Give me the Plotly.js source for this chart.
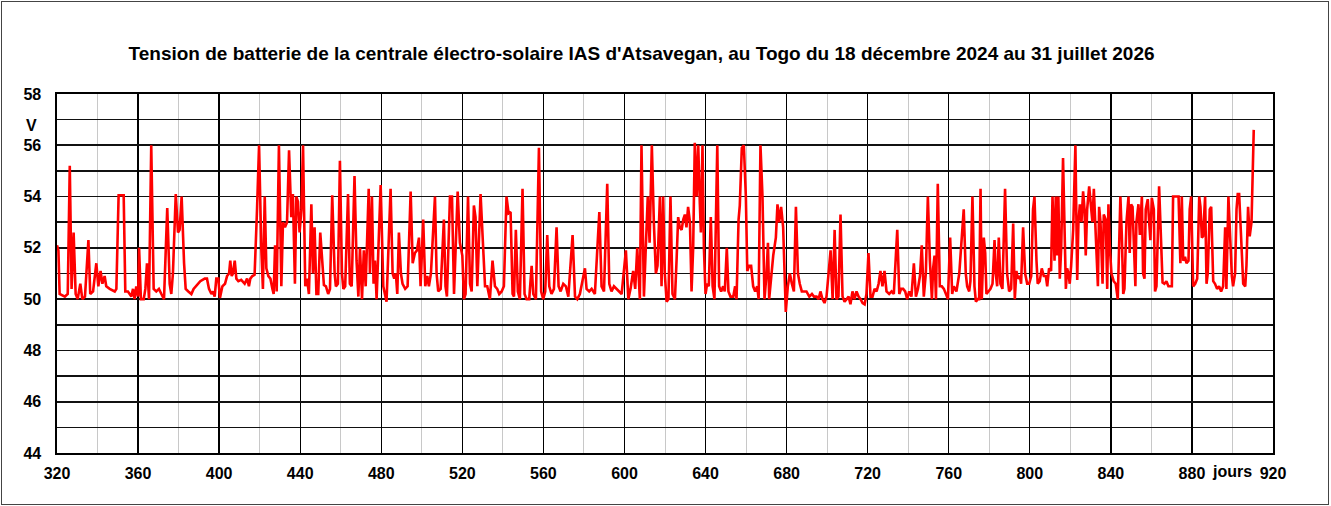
<!DOCTYPE html>
<html>
<head>
<meta charset="utf-8">
<script src="https://cdn.plot.ly/plotly-3.0.1.min.js"></script>
<style>
html,body{margin:0;padding:0;background:#fff;}
#chart{width:1331px;height:506px;}
#frame{position:absolute;left:1px;top:1px;width:1326px;height:502px;border:1px solid #444;pointer-events:none;}
</style>
</head>
<body>
<div id="chart"></div>
<div id="frame"></div>
<script>
// Day index (jours) and battery voltage (V)
const days = [
320.0,320.7,321.3,322.6,323.9,325.3,326.3,327.2,328.2,329.2,330.2,331.5,332.5,333.8,335.5,336.4,337.8,339.4,340.4,341.5,
342.4,343.5,344.3,346.0,348.5,349.3,350.4,352.9,353.7,355.0,356.7,357.5,358.3,359.1,360.0,360.5,361.4,362.8,363.6,364.4,
365.4,366.5,367.7,369.0,370.3,371.5,372.8,374.4,375.6,376.4,377.2,378.6,379.7,380.5,381.5,382.7,383.5,384.8,386.3,387.4,
389.1,390.7,392.9,394.0,395.0,396.2,397.0,397.8,398.6,399.6,400.4,401.6,402.9,403.9,404.9,405.5,406.2,406.8,407.7,408.5,
409.5,410.9,412.6,413.8,414.7,415.4,416.4,417.5,418.7,419.7,420.8,421.6,422.5,423.3,424.3,425.3,426.3,426.9,427.6,428.4,
429.5,430.7,431.5,432.5,433.5,434.5,435.6,436.4,437.4,438.1,438.9,439.7,440.6,441.4,442.5,443.4,444.3,445.5,446.3,447.1,
448.0,448.9,449.9,451.7,452.7,453.8,454.7,455.8,457.0,457.6,458.6,459.6,460.6,461.3,462.2,463.6,464.5,465.4,466.8,467.8,
468.7,469.5,470.5,471.4,472.3,473.8,474.4,475.4,476.2,476.9,477.7,479.7,481.0,482.6,484.6,485.6,486.4,487.2,487.9,488.7,
489.7,490.5,491.8,493.0,494.5,495.5,496.6,497.6,498.6,499.4,500.7,501.7,502.7,503.5,504.5,506.5,507.3,508.1,509.3,510.9,
511.7,512.4,513.9,514.9,515.9,517.7,518.8,520.0,520.8,521.6,522.8,523.8,524.6,525.7,526.5,527.4,529.0,530.0,531.2,532.3,
533.6,534.9,536.1,537.2,538.2,539.4,540.5,541.8,542.8,543.8,544.8,545.5,546.4,547.4,548.4,549.7,550.7,551.7,553.0,554.2,
555.0,556.3,557.8,558.9,559.9,560.9,561.9,562.9,564.0,565.2,566.5,567.5,568.5,569.8,571.1,572.3,574.4,575.6,576.7,578.0,
580.5,581.3,582.6,583.8,585.4,587.6,588.7,589.9,591.5,592.5,593.6,594.8,596.1,597.4,598.6,600.7,601.9,603.0,604.3,605.3,
606.3,607.6,608.4,609.6,610.6,611.5,612.4,613.5,614.5,615.5,616.3,617.5,618.3,619.1,619.9,620.8,621.7,622.7,623.7,624.9,
625.7,626.5,627.3,628.2,629.0,629.8,630.6,631.4,632.3,633.1,633.9,634.7,635.6,636.4,637.2,637.7,638.5,639.2,640.0,640.8,
641.6,642.6,643.5,644.4,645.8,646.7,647.7,648.7,649.5,650.5,651.3,652.3,653.7,654.6,655.3,656.3,656.9,657.9,658.9,659.9,
660.6,661.5,662.5,663.5,664.5,665.5,666.2,667.1,668.1,669.1,670.1,670.8,671.4,672.4,673.4,674.7,675.5,676.3,677.3,678.3,
679.0,679.6,680.6,681.6,682.6,683.6,684.6,685.6,686.5,687.5,688.5,689.8,691.2,692.5,693.5,694.8,695.8,696.7,697.7,698.7,
699.7,700.7,701.7,702.7,703.7,704.6,705.6,706.6,707.6,708.6,709.6,710.6,711.5,712.5,713.5,714.5,715.5,716.5,717.5,718.5,
719.4,720.4,721.4,722.4,723.4,724.4,725.4,726.3,727.3,728.3,729.3,730.6,731.8,732.9,734.6,735.6,736.5,737.5,738.5,739.5,
740.5,741.6,742.8,743.8,744.8,745.8,746.7,747.7,748.7,749.7,750.7,751.7,752.3,753.0,753.7,754.6,755.6,756.6,757.6,758.6,
759.6,760.7,761.7,762.5,763.8,765.2,766.3,767.4,768.4,769.1,770.1,770.7,771.7,772.7,773.4,774.3,775.0,775.7,776.3,777.3,
778.0,778.6,779.6,780.6,781.6,782.6,783.2,783.9,784.7,785.5,786.5,787.8,788.8,789.8,790.8,791.8,792.6,793.4,794.1,795.1,
795.7,796.7,797.7,798.7,799.7,800.7,801.6,802.3,803.3,803.9,804.9,805.9,806.9,807.9,808.6,809.5,810.5,811.2,812.2,812.8,
813.5,814.1,814.8,815.5,816.4,817.1,817.8,818.4,819.1,819.7,820.4,821.4,822.5,823.4,824.0,824.7,825.5,826.3,827.0,827.6,
828.3,829.3,830.3,830.9,831.6,832.2,832.9,833.6,834.2,834.9,835.9,836.5,837.5,838.2,838.8,839.5,840.3,841.4,842.4,843.4,
844.7,845.4,846.1,846.7,847.7,848.7,849.3,850.0,850.7,851.6,852.1,852.6,853.6,854.3,855.3,855.9,856.6,857.2,858.2,858.9,
859.5,860.2,861.2,861.8,862.5,863.8,864.8,865.5,866.4,867.4,868.4,869.4,870.1,870.7,872.0,873.4,874.3,875.0,875.7,876.6,
877.3,878.3,878.9,879.6,880.6,881.6,882.6,883.6,884.2,884.9,885.5,886.5,887.2,887.8,888.8,889.5,890.5,891.4,892.4,893.4,
894.4,895.4,896.4,897.0,898.0,899.0,899.7,900.3,901.3,902.0,902.6,903.3,904.3,905.3,906.3,906.9,907.7,908.5,909.4,910.5
];
const volts = [
52.1,51.9,50.2,50.15,50.1,50.2,55.2,50.4,52.6,50.2,50.0,50.6,50.0,50.1,52.3,50.2,50.3,51.4,50.5,51.1,
50.6,50.9,50.5,50.4,50.3,50.4,54.05,54.05,50.3,50.3,50.1,50.4,50.0,50.5,50.1,52.0,50.0,50.0,50.4,51.4,
50.0,56.0,50.4,50.3,50.4,50.2,50.0,53.55,50.6,50.2,51.0,54.1,52.6,52.7,54.0,51.4,50.4,50.3,50.2,50.4,
50.55,50.7,50.8,50.8,50.4,50.2,50.3,50.1,50.8,50.8,50.05,50.5,50.6,50.9,51.0,51.5,50.9,51.0,51.5,50.8,
50.7,50.75,50.6,50.8,50.5,50.8,50.9,50.95,53.5,56.0,52.0,50.4,54.0,51.2,50.9,50.8,50.4,50.2,52.1,50.3,
56.0,50.5,53.0,52.8,53.0,55.8,53.2,54.1,50.6,54.0,53.8,52.6,53.5,56.0,50.5,50.8,50.2,53.7,51.0,52.8,
50.2,50.2,52.6,50.55,50.5,50.2,50.4,54.05,51.0,50.5,50.6,55.4,51.0,50.4,50.5,54.1,50.6,50.5,54.8,51.5,
50.1,52.0,50.0,51.9,50.5,54.3,51.0,54.0,50.6,51.5,50.0,54.45,50.5,49.9,54.3,51.0,50.8,51.0,50.2,52.6,
51.0,50.6,50.4,50.5,54.2,51.4,51.8,51.9,52.4,50.5,53.1,50.5,50.9,50.5,51.0,54.0,51.0,50.3,50.4,53.1,
50.5,50.1,54.0,54.0,50.2,54.2,52.2,51.7,50.0,50.2,54.0,50.6,50.3,53.65,53.2,50.5,54.1,52.5,50.5,50.5,
50.0,51.5,50.5,50.4,50.2,50.3,50.5,54.0,53.35,53.4,50.2,50.1,52.7,50.3,50.0,54.3,50.2,50.0,50.0,51.3,
50.2,50.0,55.9,50.3,50.0,50.3,52.5,50.5,50.2,50.4,52.8,50.5,50.3,50.6,50.5,50.1,52.5,50.1,50.0,50.2,
51.2,50.4,50.3,50.4,50.2,53.4,50.5,50.3,54.5,50.6,50.3,50.5,50.4,50.3,50.2,51.9,50.0,50.4,51.1,50.4,
52.0,50.0,56.0,50.1,52.2,54.0,52.2,56.0,53.0,51.0,51.3,54.0,50.5,54.0,51.0,49.9,50.0,54.0,50.2,50.0,
51.5,53.2,52.8,52.7,53.1,53.3,52.8,53.6,53.0,50.3,52.0,56.1,54.0,56.0,53.7,52.6,56.0,52.0,50.2,50.6,
50.5,53.2,50.5,50.0,56.0,50.5,50.3,50.5,50.3,52.0,50.3,50.1,50.1,50.5,50.0,53.1,53.65,55.9,56.0,54.0,
51.1,51.3,51.3,50.5,50.3,50.5,50.0,56.0,54.0,50.0,51.0,52.2,50.0,51.0,51.7,52.4,53.7,53.0,53.6,52.8,
51.0,49.5,50.5,51.0,50.6,50.3,53.6,51.0,50.6,50.3,50.3,50.3,50.1,50.2,50.1,50.1,50.0,50.3,50.0,49.85,
50.1,51.0,51.9,50.0,52.7,50.0,50.1,53.3,50.1,49.9,50.0,50.1,49.8,50.3,50.0,50.3,50.1,50.0,49.85,49.8,
50.2,51.8,50.1,50.1,50.4,50.3,50.6,51.1,50.5,51.1,50.3,50.2,50.3,50.2,52.7,50.2,50.4,50.4,50.3,50.0,
50.3,50.1,51.4,50.1,50.4,50.9,52.1,50.1,51.0,54.0,51.5,50.0,51.2,51.7,50.0,54.5,50.5,50.5,50.4,50.2,
50.0,52.4,50.2,50.5,50.3,51.0,52.5,53.5,51.0,50.5,50.3,50.7,54.0,50.5,49.9,50.0,50.0,54.3,50.0,52.4,
51.8,50.2,50.3,50.4,50.6,52.3,51.0,50.5,52.4,50.6,50.4,54.3,51.0,50.3,50.4,52.95,50.0,51.1,50.8,50.9,
50.6,52.8,51.0,50.6,50.6,50.9,53.5,54.0,51.5,50.6,50.7,51.2,50.9,50.9,50.5,51.2,51.1,54.0,51.5,54.0,
51.7,54.0,50.8,52.0,55.5,53.0,50.4,51.2,51.0,50.6,51.3,52.7,56.0,50.75,53.0,53.7,53.0,54.2,53.5,51.7,
53.5,54.4,53.3,53.0,54.3,53.0,51.3,50.5,53.6,53.0,50.6,53.3,53.1,50.4,53.7,52.0,51.0,50.7,50.6,50.0,
54.0,52.5,50.2,50.4,53.0,54.0,51.8,53.7,53.6,51.0,50.5,53.0,53.7,52.5,54.0,51.0,50.8,53.5,53.9,53.0,
52.3,53.95,53.5,50.3,50.5,54.4,52.0,50.65,50.6,50.7,50.5,50.5,50.5,54.0,54.0,54.0,51.4,54.0,51.5,51.65,
51.4,51.5,53.5,54.0,50.5,50.6,50.8,54.0,53.6,52.4,52.45,54.0,50.6,51.0,53.5,53.6,50.7,50.6,50.4,50.5,
50.3,50.5,52.8,50.4,54.0,52.0,50.9,50.5,51.0,53.5,54.1,54.1,52.5,50.6,50.5,51.3,53.6,52.45,53.0,56.6
];
const xTicks = [320,360,400,440,480,520,560,600,640,680,720,760,800,840,880,920];
const yTicks = [44,46,48,50,52,54,56,58];
const titleText = "Tension de batterie de la centrale électro-solaire IAS d'Atsavegan, au Togo du 18 décembre 2024 au 31 juillet 2026";

const FONT = 'Liberation Sans, Arial, sans-serif';
const trace = {
  x: days, y: volts, type: 'scatter', mode: 'lines',
  line: {color: '#ff0000', width: 2.6}, hoverinfo: 'skip'
};
const layout = {
  width: 1331, height: 506,
  margin: {l: 57, r: 58, t: 94, b: 53, pad: 0},
  paper_bgcolor: '#ffffff', plot_bgcolor: '#ffffff',
  showlegend: false,
  title: {
    text: titleText, x: 0.482, xanchor: 'center', y: 0.895, yanchor: 'middle',
    yref: 'container', xref: 'container',
    font: {family: FONT, size: 19, color: '#000', weight: 'bold'}
  },
  xaxis: {
    range: [320, 920], tickmode: 'array', tickvals: xTicks,
    ticktext: xTicks.map(String),
    showgrid: true, gridcolor: '#000', gridwidth: 1.3,
    minor: {dtick: 20, tick0: 320, showgrid: true, gridcolor: '#c8c8c8', gridwidth: 1},
    showline: true, linecolor: '#000', linewidth: 1.6, mirror: true,
    zeroline: false, ticks: 'outside', ticklen: 5, tickcolor: 'rgba(0,0,0,0)',
    tickfont: {family: FONT, size: 16, color: '#000', weight: 'bold'}
  },
  yaxis: {
    range: [44, 58], tickmode: 'array', tickvals: yTicks,
    ticktext: yTicks.map(String),
    showgrid: true, gridcolor: '#111', gridwidth: 1.6,
    minor: {dtick: 1, tick0: 44, showgrid: true, gridcolor: '#111', gridwidth: 1.6},
    showline: true, linecolor: '#000', linewidth: 1.6, mirror: true,
    zeroline: false, ticks: 'outside', ticklen: 11, tickcolor: 'rgba(0,0,0,0)',
    tickfont: {family: FONT, size: 16, color: '#000', weight: 'bold'}
  },
  annotations: [
    {text: 'V', xref: 'paper', yref: 'paper', x: -0.0206, y: 0.912,
     xanchor: 'center', yanchor: 'middle', showarrow: false,
     font: {family: FONT, size: 16, color: '#000', weight: 'bold'}},
    {text: 'jours', xref: 'x', yref: 'paper', x: 900, y: -0.052,
     xanchor: 'center', yanchor: 'middle', showarrow: false,
     font: {family: FONT, size: 16, color: '#000', weight: 'bold'}}
  ]
};
Plotly.newPlot('chart', [trace], layout, {staticPlot: true, displayModeBar: false});
</script>
</body>
</html>
